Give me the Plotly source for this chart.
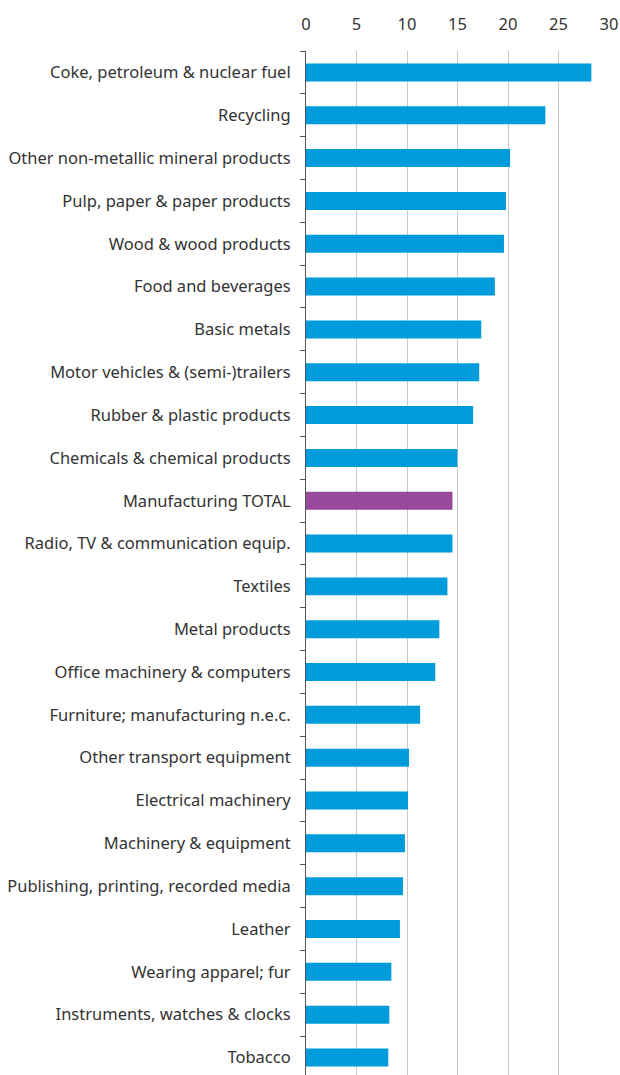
import plotly.graph_objects as go

categories = [
    "Coke, petroleum & nuclear fuel",
    "Recycling",
    "Other non-metallic mineral products",
    "Pulp, paper & paper products",
    "Wood & wood products",
    "Food and beverages",
    "Basic metals",
    "Motor vehicles & (semi-)trailers",
    "Rubber & plastic products",
    "Chemicals & chemical products",
    "Manufacturing TOTAL",
    "Radio, TV & communication equip.",
    "Textiles",
    "Metal products",
    "Office machinery & computers",
    "Furniture; manufacturing n.e.c.",
    "Other transport equipment",
    "Electrical machinery",
    "Machinery & equipment",
    "Publishing, printing, recorded media",
    "Leather",
    "Wearing apparel; fur",
    "Instruments, watches & clocks",
    "Tobacco",
]
values = [28.25, 23.7, 20.2, 19.8, 19.6, 18.7, 17.35, 17.15, 16.55, 14.98,
          14.5, 14.5, 14.0, 13.2, 12.8, 11.3, 10.2, 10.1, 9.8, 9.6, 9.3,
          8.45, 8.25, 8.15]
x_ticks = [0, 5, 10, 15, 20, 25, 30]
highlight = "Manufacturing TOTAL"

BLUE = "#009BDB"
PURPLE = "#974A9B"
colors = [PURPLE if c == highlight else BLUE for c in categories]

W, H, T = 620, 1075, 51
ROW_PX = 42.83
visible_rows = (H - T) / ROW_PX

fig = go.Figure(go.Bar(
    x=values,
    y=categories,
    orientation="h",
    marker=dict(color=colors, line=dict(width=0)),
    width=0.42,
))

fig.update_layout(
    width=W,
    height=H,
    margin=dict(l=306, r=11, t=T, b=0, autoexpand=False),
    paper_bgcolor="white",
    plot_bgcolor="white",
    showlegend=False,
    font=dict(family="Noto Sans", size=16.5, color="#333333"),
)
fig.update_xaxes(
    side="top",
    range=[0, 30],
    tickvals=x_ticks,
    ticktext=[str(t) for t in x_ticks],
    showgrid=True,
    gridcolor="#C8C8C8",
    gridwidth=1,
    zeroline=False,
    showline=False,
    ticks="",
    ticklabelstandoff=17,
    automargin=False,
    tickfont=dict(family="Noto Sans", size=16.5, color="#333333"),
    fixedrange=True,
)
fig.update_yaxes(
    categoryorder="array",
    categoryarray=categories,
    range=[-0.5 + visible_rows, -0.5],
    showline=True,
    linecolor="#555555",
    linewidth=1,
    ticks="outside",
    tickson="boundaries",
    ticklen=5,
    tickcolor="#555555",
    ticklabelstandoff=11,
    showgrid=False,
    automargin=False,
    tickfont=dict(family="Noto Sans", size=16.5, color="#333333"),
    fixedrange=True,
)

fig.write_html(
    "out.html",
    config={"displayModeBar": False},
    post_script="document.body.style.margin='0';document.body.style.overflow='hidden';",
)
